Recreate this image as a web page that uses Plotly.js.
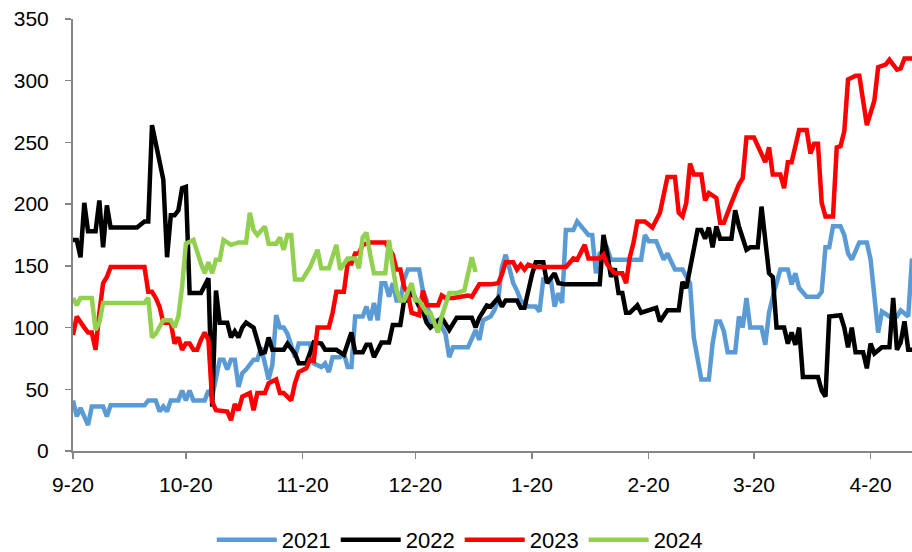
<!DOCTYPE html>
<html>
<head>
<meta charset="utf-8">
<script src="https://cdn.plot.ly/plotly-3.0.1.min.js"></script>
<style>html,body{margin:0;padding:0;background:#fff;}#chart{width:912px;height:552px;}</style>
</head>
<body>
<div id="chart"></div>
<script>
// x values are days counted from 9-20
const tickDays = [0, 30, 61, 91, 122, 153, 181, 212];
const tickLabels = ['9-20', '10-20', '11-20', '12-20', '1-20', '2-20', '3-20', '4-20'];
const seriesNames = ['2021', '2022', '2023', '2024'];

const days2021 = [0,1,2,4,5,8,9,10,19,20,22,23,24,25,26,28,29,30,31,32,35,36,37,38,39,40,41,42,43,44,45,46,48,49,50,51,52,53,54,55,56,57,58,59,60,63,64,66,67,68,69,71,72,73,74,75,77,78,79,80,81,82,83,84,85,86,87,88,89,92,93,94,95,97,99,100,101,105,107,108,109,111,112,113,114,115,116,117,118,119,121,123,124,125,127,128,129,130,131,133,134,136,137,138,139,140,142,143,151,152,153,155,157,158,160,162,163,164,165,167,169,170,171,172,173,174,176,177,178,179,180,183,184,185,186,188,190,191,192,193,195,198,199,200,201,202,204,205,206,207,209,211,212,214,215,217,219,220,222,223];
const vals2021 = [41,28,35,21,36,36,28,37,37,41,41,32,36,32,41,41,49,41,49,41,41,49,44,58,74,74,66,74,74,52,63,66,74,74,84,71,58,70,110,100,100,95,84,76,87,87,71,68,71,64,76,76,79,68,68,109,109,117,106,120,106,136,136,125,136,122,122,139,147,147,130,122,105,106,95,76,84,84,98,90,106,109,114,122,149,159,148,136,130,122,117,117,113,139,139,117,128,120,179,179,186,179,175,175,144,160,164,155,155,175,170,170,155,160,147,147,141,136,92,58,58,87,105,105,97,80,80,109,100,124,100,100,86,112,125,147,147,135,144,132,125,125,129,165,165,182,182,175,160,155,169,169,155,96,113,109,109,114,109,156];

const days2022 = [0,1,2,3,4,6,7,8,9,10,17,19,20,21,24,25,26,27,28,29,30,31,34,36,37,38,39,41,42,43,44,45,46,48,50,51,52,53,56,57,59,60,62,63,64,66,67,70,72,74,75,77,78,79,80,82,84,85,87,88,89,90,92,93,94,95,98,100,102,106,107,108,110,111,113,114,115,118,119,120,121,122,123,125,126,128,129,131,140,141,142,143,144,145,146,147,148,150,151,155,156,157,158,161,162,163,164,166,167,168,169,170,171,172,175,176,177,179,180,182,183,184,185,186,187,189,190,191,192,193,194,198,199,200,201,204,205,206,207,208,210,211,212,213,215,217,218,219,220,221,222,223];
const vals2022 = [171,171,157,201,178,178,203,165,199,181,181,186,186,264,220,157,191,191,195,213,214,128,128,140,36,130,104,104,92,97,92,100,104,100,79,80,92,82,82,87,79,71,71,79,88,87,82,82,78,96,80,80,86,86,76,88,88,102,102,122,122,130,117,113,104,100,108,98,108,108,100,108,118,117,124,117,122,122,116,116,130,143,153,153,136,144,136,135,135,175,160,141,148,128,128,112,112,118,112,116,105,110,114,114,137,132,149,179,179,172,181,165,182,172,172,195,182,163,165,165,198,171,144,141,100,100,87,96,86,100,60,60,49,44,109,110,100,84,100,80,80,67,87,79,84,84,124,82,88,105,82,82];

const days2023 = [0,1,3,4,5,6,7,8,9,10,19,20,21,22,23,24,26,27,28,29,30,31,32,33,34,35,36,37,38,40,41,42,43,44,45,47,48,49,51,52,54,55,56,58,59,60,62,63,64,65,68,69,70,72,73,74,75,76,77,79,83,85,86,87,88,89,90,92,93,94,97,98,99,101,103,105,106,108,111,113,114,115,117,118,119,120,121,123,131,133,134,136,137,140,141,142,144,146,147,148,149,150,152,154,156,158,160,161,162,163,164,165,167,168,169,171,172,173,175,177,178,179,181,182,184,185,186,188,189,190,191,193,195,196,197,198,199,200,202,203,204,205,206,208,209,211,213,214,216,217,219,220,221,223];
const vals2023 = [94,109,100,96,96,82,112,136,141,149,149,129,129,124,117,104,104,87,92,82,87,87,82,82,90,96,90,40,33,32,32,25,38,33,44,47,33,47,47,55,58,47,47,41,55,64,67,74,73,100,100,112,129,129,152,152,160,160,167,169,169,159,147,147,133,128,112,110,130,118,118,126,124,124,125,126,125,135,135,136,143,153,153,147,151,147,151,149,149,156,155,167,156,156,159,151,144,144,136,157,169,186,186,181,193,222,222,193,190,201,233,224,224,203,209,205,185,185,201,216,221,254,254,248,234,246,224,224,213,234,234,260,260,241,249,249,201,190,190,246,247,259,301,304,304,264,284,311,313,317,309,310,318,318];

const days2024 = [0,1,2,5,6,7,8,19,20,21,22,24,26,27,28,29,30,32,34,35,36,37,38,39,40,42,44,46,47,48,49,51,52,54,55,56,57,58,59,61,62,63,65,66,68,70,71,73,75,76,77,78,79,80,83,84,85,86,87,88,90,91,92,93,94,95,97,98,100,102,104,106,107];
const vals2024 = [124,118,124,124,98,104,120,120,124,92,95,106,106,100,109,133,168,171,152,144,153,144,155,155,171,167,169,169,193,179,175,182,168,168,173,163,175,175,139,139,144,149,163,148,148,167,147,156,156,148,173,177,159,144,144,171,149,130,122,122,136,122,122,117,112,112,96,109,128,128,130,157,145];

const colors = ['#5B9BD5', '#000000', '#FF0000', '#92D050'];
const allDays = [days2021, days2022, days2023, days2024];
const allVals = [vals2021, vals2022, vals2023, vals2024];

const traces = seriesNames.map((name, i) => ({
  type: 'scatter', mode: 'lines', name: name,
  x: allDays[i], y: allVals[i],
  line: {color: colors[i], width: 4.5, shape: 'linear'},
  hoverinfo: 'skip'
}));

const font = {family: 'Liberation Sans, Arial, sans-serif', size: 21, color: '#000'};
const legendFont = {family: 'Liberation Sans, Arial, sans-serif', size: 22, color: '#000'};
const layout = {
  width: 912, height: 552,
  margin: {l: 73, r: 0, t: 19, b: 101, pad: 0, autoexpand: false},
  paper_bgcolor: '#fff', plot_bgcolor: '#fff',
  font: font,
  showlegend: true,
  legend: {orientation: 'h', x: 0.461, xanchor: 'center', y: -0.206, yanchor: 'middle',
           font: legendFont, itemwidth: 60, tracegroupgap: 0, bgcolor: 'rgba(0,0,0,0)'},
  xaxis: {type: 'linear', range: [0, 223], tickmode: 'array', tickvals: tickDays, ticktext: tickLabels,
          showgrid: false, zeroline: false, showline: true, linecolor: '#868686', linewidth: 2,
          ticks: 'outside', ticklen: 6, tickwidth: 1.5, tickcolor: '#868686', ticklabelstandoff: 8,
          tickfont: font, fixedrange: true, automargin: false},
  yaxis: {range: [0, 350], tickmode: 'linear', tick0: 0, dtick: 50,
          showgrid: false, zeroline: false, showline: true, linecolor: '#868686', linewidth: 2,
          ticks: 'outside', ticklen: 6, tickwidth: 1.5, tickcolor: '#868686', ticklabelstandoff: 12,
          tickfont: font, fixedrange: true, automargin: false}
};
Plotly.newPlot('chart', traces, layout, {staticPlot: true, displayModeBar: false});
</script>
</body>
</html>
